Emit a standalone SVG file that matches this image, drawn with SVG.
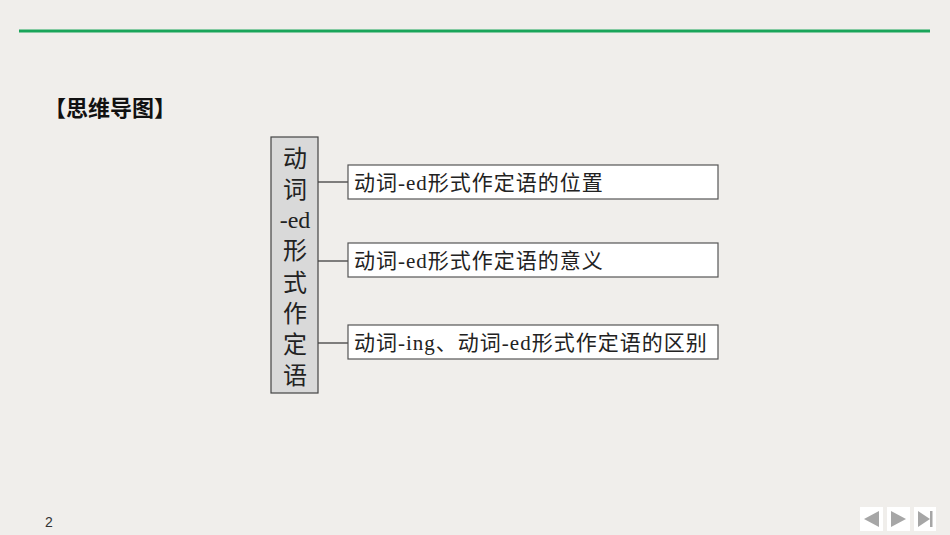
<svg xmlns="http://www.w3.org/2000/svg" width="950" height="535" viewBox="0 0 950 535">
<style>
.cjk{font-family:"Liberation Serif","Noto Sans CJK SC",serif;fill:#222}
.lbl{font-size:21px;letter-spacing:1px}
.box{fill:#fff;stroke:#555;stroke-width:1.2}
.conn{stroke:#333;stroke-width:1.2;fill:none}
.nav{fill:#fff}
.tri{fill:#a6a6a6}
</style>
<rect width="950" height="535" fill="#f0eeeb"/>
<line x1="19" y1="31" x2="930" y2="31" stroke="#1aa55a" stroke-width="3"/>
<text x="44" y="116" font-family="'Noto Sans CJK SC',sans-serif" font-size="22" font-weight="bold" fill="#111">【思维导图】</text>
<g id="connectors">
<line class="conn" x1="318" y1="182" x2="348" y2="182"/>
<line class="conn" x1="318" y1="261" x2="348" y2="261"/>
<line class="conn" x1="318" y1="343" x2="348" y2="343"/>
</g>
<g id="root">
<rect x="271" y="137" width="47" height="256" fill="#d9d9d9" stroke="#444" stroke-width="1.2"/>
<g class="cjk" font-size="24" text-anchor="middle">
<text x="295" y="167">动</text>
<text x="295" y="198">词</text>
<text x="295" y="228">-ed</text>
<text x="295" y="259">形</text>
<text x="295" y="291">式</text>
<text x="295" y="322">作</text>
<text x="295" y="353">定</text>
<text x="295" y="384">语</text>
</g>
</g>
<g id="n1">
<rect class="box" x="348" y="165" width="370" height="34"/>
<text class="cjk lbl" x="354" y="190">动词-ed形式作定语的位置</text>
</g>
<g id="n2">
<rect class="box" x="348" y="243" width="370" height="34"/>
<text class="cjk lbl" x="354" y="268">动词-ed形式作定语的意义</text>
</g>
<g id="n3">
<rect class="box" x="348" y="325" width="370" height="34"/>
<text class="cjk lbl" x="354" y="350">动词-ing、动词-ed形式作定语的区别</text>
</g>
<text x="45" y="527" font-family="'Liberation Sans',sans-serif" font-size="14" fill="#333">2</text>
<g id="navigation">
<rect class="nav" x="860" y="507" width="23" height="24"/>
<polygon class="tri" points="864,519 879,511 879,527"/>
<rect class="nav" x="887" y="507" width="23" height="24"/>
<polygon class="tri" points="891,511 906,519 891,527"/>
<rect class="nav" x="914" y="507" width="22" height="24"/>
<polygon class="tri" points="918,511 930,519 918,527"/>
<rect class="tri" x="930" y="511" width="2.5" height="16"/>
</g>
</svg>
